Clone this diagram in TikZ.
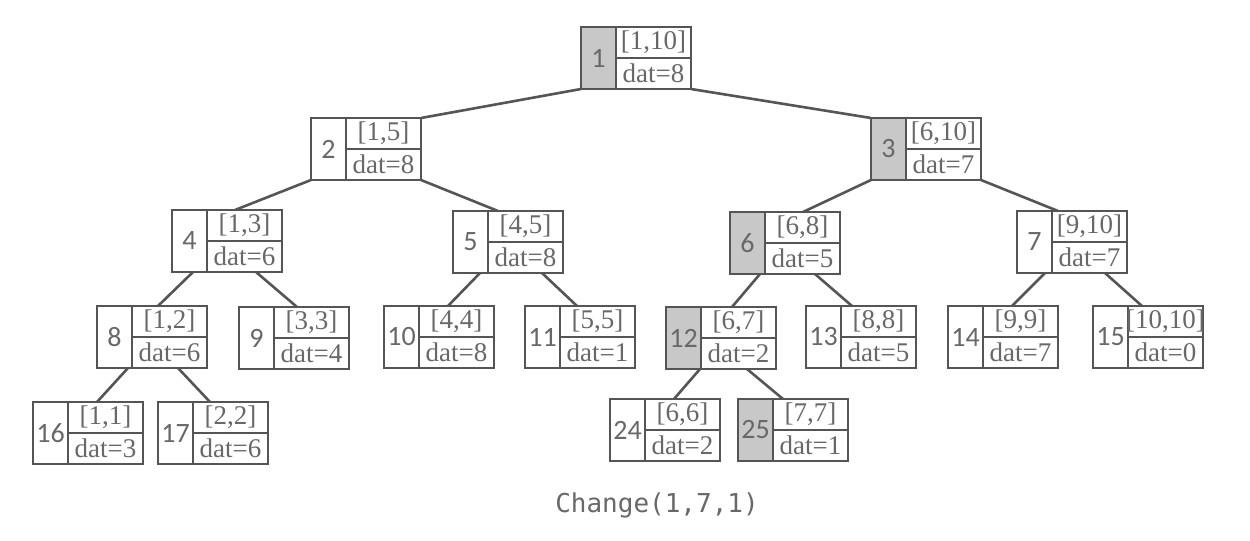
\documentclass[tikz,border=0pt]{standalone}
\usepackage{fontspec}
\setmainfont{Liberation Serif}
\newfontfamily\numfont{Carlito}
\newfontfamily\codefont{DejaVu Sans Mono}
\usetikzlibrary{calc}
\definecolor{linec}{HTML}{555555}
\definecolor{txtc}{HTML}{686868}
\definecolor{greyfill}{HTML}{C8C8C8}
\tikzset{
 tbox/.style={draw=linec, line width=0.9pt, minimum width=55pt, minimum height=31pt, inner sep=0pt, outer sep=0pt, anchor=north west},
 sep/.style={draw=linec, line width=0.9pt},
 edge/.style={draw=linec, line width=1.3pt},
 numtxt/.style={font=\numfont\fontsize{14}{14}\selectfont, text=txtc, inner sep=0pt},
 labtxt/.style={font=\fontsize{13.5}{13.5}\selectfont, text=txtc, inner sep=0pt},
 captxt/.style={font=\codefont\fontsize{13}{13}\selectfont, text=txtc, inner sep=0pt},
}
\newcommand\tn[7]{%
 \node[tbox] (#1) at (#2,#3) {};
 \fill[fill=#7] (#1.north west) rectangle ($(#1.south west)+(35,0)$);
 \draw[sep] ($(#1.north west)+(35,0)$) -- ($(#1.south west)+(35,0)$);
 \draw[sep] ($(#1.west)+(35,0)$) -- (#1.east);
 \draw[sep] (#1.north west) rectangle (#1.south east);
 \node[numtxt] (#1num) at ($(#1.west)+(17.5,0)$) {#4};
 \node[labtxt] (#1rng) at ($(#1.north west)+(72.5,15.5)$) {#5};
 \node[labtxt] (#1dat) at ($(#1.north west)+(72.5,46.5)$) {#6};
}
\begin{document}
\begin{tikzpicture}[x=0.5pt,y=-0.5pt]
\fill[white] (0,0) rectangle (1250,541);
\useasboundingbox (0,0) rectangle (1250,541);
\tn{n1}{581}{27}{1}{[1,10]}{dat=8}{greyfill}
\tn{n2}{311}{118}{2}{[1,5]}{dat=8}{white}
\tn{n3}{871}{118}{3}{[6,10]}{dat=7}{greyfill}
\tn{n4}{172}{210}{4}{[1,3]}{dat=6}{white}
\tn{n5}{453}{211}{5}{[4,5]}{dat=8}{white}
\tn{n6}{730}{212}{6}{[6,8]}{dat=5}{greyfill}
\tn{n7}{1017}{211}{7}{[9,10]}{dat=7}{white}
\tn{n8}{97}{306}{8}{[1,2]}{dat=6}{white}
\tn{n9}{239}{307}{9}{[3,3]}{dat=4}{white}
\tn{n10}{384}{306}{10}{[4,4]}{dat=8}{white}
\tn{n11}{525}{306}{11}{[5,5]}{dat=1}{white}
\tn{n12}{666}{307}{12}{[6,7]}{dat=2}{greyfill}
\tn{n13}{806}{306}{13}{[8,8]}{dat=5}{white}
\tn{n14}{948}{306}{14}{[9,9]}{dat=7}{white}
\tn{n15}{1093}{306}{15}{[10,10]}{dat=0}{white}
\tn{n16}{33}{402}{16}{[1,1]}{dat=3}{white}
\tn{n17}{158}{402}{17}{[2,2]}{dat=6}{white}
\tn{n24}{610}{399}{24}{[6,6]}{dat=2}{white}
\tn{n25}{738}{399}{25}{[7,7]}{dat=1}{greyfill}
\draw[edge] (n1.south west) -- (n2.north east);
\draw[edge] (n1.south east) -- (n3.north west);
\draw[edge] (n2.south west) -- ($(n4.north west)+(63,0)$);
\draw[edge] (n2.south east) -- ($(n5.north west)+(45,0)$);
\draw[edge] (n3.south west) -- ($(n6.north west)+(73,0)$);
\draw[edge] (n3.south east) -- ($(n7.north west)+(41,0)$);
\draw[edge] ($(n4.south west)+(21,0)$) -- ($(n8.north west)+(61,0)$);
\draw[edge] ($(n4.south west)+(84,0)$) -- ($(n9.north west)+(58,0)$);
\draw[edge] ($(n5.south west)+(27,0)$) -- ($(n10.north west)+(64,0)$);
\draw[edge] ($(n5.south west)+(89,0)$) -- ($(n11.north west)+(52,0)$);
\draw[edge] ($(n6.south west)+(30,0)$) -- ($(n12.north west)+(66,0)$);
\draw[edge] ($(n6.south west)+(85,0)$) -- ($(n13.north west)+(46,0)$);
\draw[edge] ($(n7.south west)+(28,0)$) -- ($(n14.north west)+(64,0)$);
\draw[edge] ($(n7.south west)+(88,0)$) -- ($(n15.north west)+(49,0)$);
\draw[edge] ($(n8.south west)+(31,0)$) -- ($(n16.north west)+(64,0)$);
\draw[edge] ($(n8.south west)+(81,0)$) -- ($(n17.north west)+(52,0)$);
\draw[edge] ($(n12.south west)+(34,0)$) -- ($(n24.north west)+(64,0)$);
\draw[edge] ($(n12.south west)+(81,0)$) -- ($(n25.north west)+(45,0)$);
\node[captxt] (cap) at (657,505) {Change(1,7,1)};
\end{tikzpicture}
\end{document}
